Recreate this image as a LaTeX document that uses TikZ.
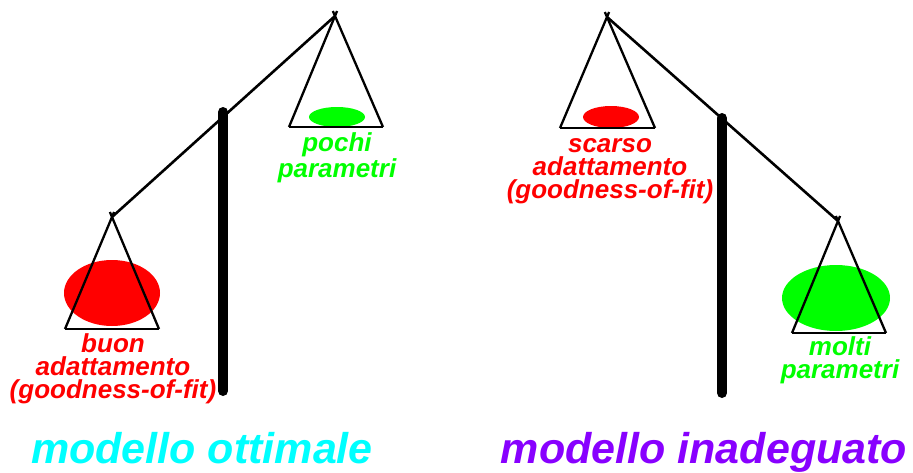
\documentclass[tikz,border=0pt]{standalone}
\usepackage{fontspec}
\setmainfont{Liberation Sans}
\usetikzlibrary{calc}
\definecolor{myred}{RGB}{255,0,0}
\definecolor{mygreen}{RGB}{0,255,0}
\definecolor{mycyan}{RGB}{0,255,255}
\definecolor{mypurple}{RGB}{136,0,255}
\tikzset{
  pole/.style={line width=10pt, line cap=round},
  beam/.style={line width=2.6pt},
  pan/.style={line width=2.3pt},
  lbl/.style={align=center, anchor=base, inner sep=0pt, font=\fontsize{26}{23}\selectfont\bfseries\itshape},
  ttl/.style={anchor=base, inner sep=0pt, font=\fontsize{43}{46}\selectfont\bfseries\itshape},
}
\newcommand{\mypan}[3]{%
  \draw[pan] (#2) -- (#3);
  \draw[pan] (#2) -- ($(#2)!1.045!(#1)$);
  \draw[pan] (#3) -- ($(#3)!1.045!(#1)$);
}
\begin{document}
\begin{tikzpicture}[x=1pt,y=-1pt]
\useasboundingbox (0,0) rectangle (913,472);
% ---------- left balance ----------
\coordinate (LA) at (335,16);
\coordinate (LAl) at (289,127);
\coordinate (LAr) at (383,127);
\coordinate (LB) at (112,217);
\coordinate (LBl) at (65,329);
\coordinate (LBr) at (159,329);
\coordinate (LPt) at (223,112);
\coordinate (LPb) at (223,391);
\fill[mygreen] (337,117) ellipse [x radius=28pt, y radius=10pt];
\fill[myred] (112,293) ellipse [x radius=48pt, y radius=33pt];
\draw[pole] (LPt) -- (LPb);
\draw[beam] (LA) -- (LB);
\mypan{LA}{LAl}{LAr}
\mypan{LB}{LBl}{LBr}
\node[lbl, text=mygreen] (pochi) at (337,177) {pochi\\parametri};
\node[lbl, text=myred] (buon) at (113,398) {buon\\adattamento\\(goodness-of-fit)};
% ---------- right balance ----------
\coordinate (RA) at (607,17);
\coordinate (RAl) at (560,128);
\coordinate (RAr) at (655,128);
\coordinate (RB) at (838,221);
\coordinate (RBl) at (792,333);
\coordinate (RBr) at (886,333);
\coordinate (RPt) at (722,118);
\coordinate (RPb) at (722,393);
\fill[myred] (611,117) ellipse [x radius=28pt, y radius=11pt];
\fill[mygreen] (836,298) ellipse [x radius=54pt, y radius=33pt];
\draw[pole] (RPt) -- (RPb);
\draw[beam] (RA) -- (RB);
\mypan{RA}{RAl}{RAr}
\mypan{RB}{RBl}{RBr}
\node[lbl, text=myred] (scarso) at (610,198) {scarso\\adattamento\\(goodness-of-fit)};
\node[lbl, text=mygreen] (molti) at (840,378) {molti\\parametri};
% ---------- titles ----------
\node[ttl, text=mycyan] (ott) at (202,463) {modello ottimale};
\node[ttl, text=mypurple] (inad) at (704,463) {modello inadeguato};
\end{tikzpicture}
\end{document}
